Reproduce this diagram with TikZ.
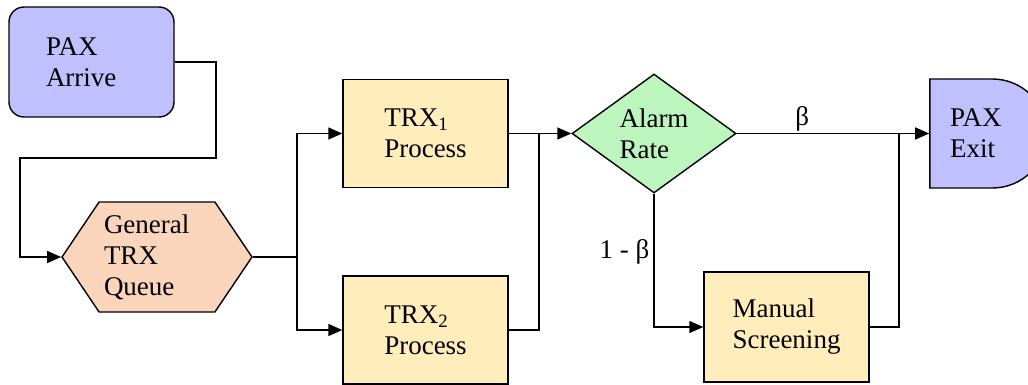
\documentclass[tikz,border=0pt]{standalone}
\usepackage{fontspec}
\setmainfont{Liberation Serif}
\newfontfamily\diagfont{Liberation Serif}
\usetikzlibrary{arrows.meta,shapes.geometric,shapes.symbols,shapes.misc}
\definecolor{paxblue}{RGB}{192,192,255}
\definecolor{queuepeach}{RGB}{251,212,188}
\definecolor{procyellow}{RGB}{255,238,188}
\definecolor{alarmgreen}{RGB}{188,245,190}
\tikzset{
  every node/.style={font=\diagfont\fontsize{27}{31}\selectfont, align=left},
  procbox/.style={draw, line width=1.4pt, fill=procyellow, minimum width=165pt, minimum height=108pt},
  flow/.style={line width=1.4pt, -{Triangle[length=14pt,width=12pt]}},
  link/.style={line width=1.4pt}
}
\begin{document}
\begin{tikzpicture}[x=1pt,y=-1pt]
    \clip (0,0) rectangle (1028,385);
    \fill[white] (0,0) rectangle (1028,385);
    \node[draw, line width=1.4pt, fill=paxblue, rounded corners=15pt, minimum width=165pt, minimum height=110pt, text width=91pt, inner xsep=0pt] (arrive) at (91.5,62) {PAX\\Arrive};
    \node[draw, line width=1.4pt, fill=queuepeach, shape=signal, signal to=west and east, signal pointer angle=112, minimum width=190pt, minimum height=110pt, text width=106pt, inner xsep=0pt] (queue) at (157,257) {General\\TRX\\Queue};
    \node[procbox] (trxone) at (425.5,133.5) {TRX\textsubscript{1}\\Process};
    \node[procbox] (trxtwo) at (425.5,330) {TRX\textsubscript{2}\\Process};
    \node[draw, line width=1.4pt, fill=alarmgreen, diamond, minimum width=164pt, minimum height=109pt, inner sep=0pt] (alarm) at (654,133.5) {Alarm\\Rate};
    \node[procbox, minimum height=110pt] (manual) at (786.5,327) {Manual\\Screening};
    \node[draw, line width=1.4pt, fill=paxblue, rounded rectangle, rounded rectangle west arc=none, minimum width=117pt, minimum height=109pt, text width=71pt, inner xsep=0pt] (exit) at (985.5,133.5) {PAX\\Exit};
    \coordinate (bendA) at (216,158);
    \coordinate (bendB) at (20,158);
    \coordinate (split) at (297,257);
    \coordinate (merge) at (539,133.5);
    \coordinate (join) at (899,133.5);
    \draw[flow] (arrive.east) -| (bendA) -- (bendB) |- (queue.west);
    \draw[link] (queue.east) -- (split);
    \draw[flow] (split) |- (trxone.west);
    \draw[flow] (split) |- (trxtwo.west);
    \draw[link] (trxone.east) -- (merge);
    \draw[link] (trxtwo.east) -| (merge);
    \draw[flow] (merge) -- (alarm.west);
    \draw[flow] (alarm.east) -- node[pos=0.34, above, inner ysep=2pt] (beta) {β} (exit.west);
    \draw[flow] (alarm.south) |- node[pos=0.22, left, inner xsep=4pt] (notbeta) {1 - β} (manual.west);
    \draw[link] (manual.east) -| (join);
\end{tikzpicture}
\end{document}
